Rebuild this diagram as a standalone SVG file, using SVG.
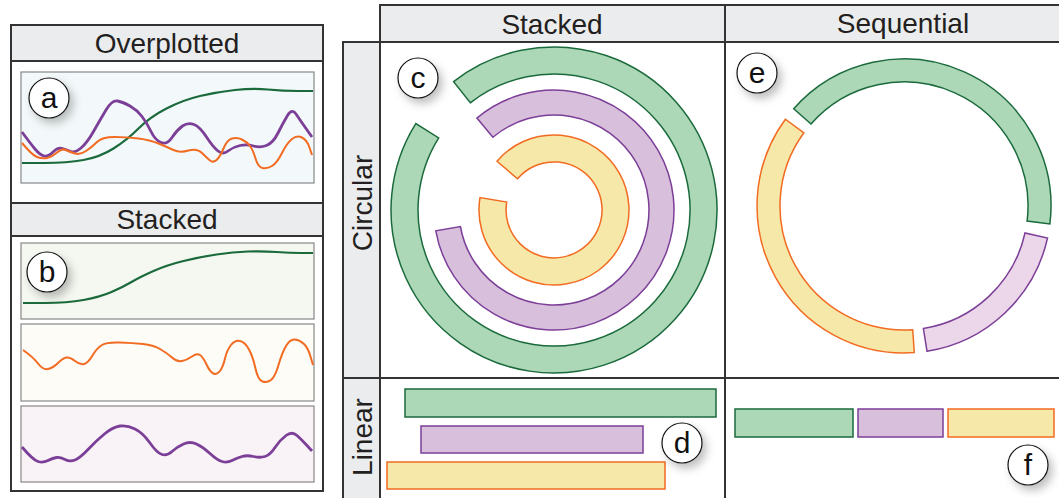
<svg xmlns="http://www.w3.org/2000/svg" width="1059" height="498" viewBox="0 0 1059 498">
<style>
.hdr{fill:#ebecee;stroke:#333;stroke-width:2}
.frame{fill:none;stroke:#333;stroke-width:2}
.grid{stroke:#333;stroke-width:2;fill:none}
.t{font-family:"Liberation Sans",Arial,sans-serif;font-size:28px;fill:#231f20;text-anchor:middle}
.lbl{font-family:"Liberation Sans",Arial,sans-serif;font-size:30px;fill:#111;text-anchor:middle}
.lc{fill:#fff;stroke:#111;stroke-width:1.2}
.plot{stroke:#888;stroke-width:1.2}
.g{fill:#acd8b7;stroke:#1b6a3c;stroke-width:1.5}
.p{fill:#d8bfdc;stroke:#7c3f98;stroke-width:1.5}
.pl{fill:#ecd7ea;stroke:#7c3f98;stroke-width:1.5}
.y{fill:#f6e8a9;stroke:#f26b22;stroke-width:1.5}
.cg{fill:none;stroke:#1b6a3c;stroke-width:2.2}
.cp{fill:none;stroke:#7c3f98;stroke-width:2.8}
.co{fill:none;stroke:#f26b22;stroke-width:2}
</style>
<defs>
<filter id="sh" x="-50%" y="-50%" width="220%" height="220%">
<feDropShadow dx="4" dy="5" stdDeviation="4" flood-color="#000" flood-opacity="0.25"/>
</filter>
</defs>
<rect width="1059" height="498" fill="#fff"/>

<g id="left-panel">
<rect x="11" y="25" width="312" height="466" fill="#fff" class="frame"/>
<rect x="11" y="25" width="312" height="36" class="hdr"/>
<text x="167" y="53" class="t">Overplotted</text>
<rect x="11" y="203" width="312" height="33" class="hdr"/>
<text x="167" y="229" class="t">Stacked</text>
</g>

<g id="panel-a">
<rect x="21" y="72" width="293" height="111" fill="#f3f9fa" class="plot"/>
<path class="cg" d="M22,163 L44.5,163 Q67,163 83.5,160 Q100,157 113.5,148.5 Q127,140 138.5,128.5 Q150,117 166.5,108.5 Q183,100 200,96 Q217,92 235,90 Q253,88 268,89.5 Q283,91 298,91 L313,91"/>
<path class="cp" d="M22,132 Q30,143 35,149 Q40,155 44,156 Q48,157 53,152 Q58,147 62.5,148.5 Q67,150 71,151.5 Q75,153 81,148 Q87,143 93.5,131.5 Q100,120 106,110 Q112,100 117.5,101 Q123,102 130,106 Q137,110 142,116.5 Q147,123 151,131.5 Q155,140 161,142.5 Q167,145 172,137.5 Q177,130 182.5,126 Q188,122 194,124.5 Q200,127 206.5,137 Q213,147 218,151 Q223,155 228,151 Q233,147 240,145.5 Q247,144 253.5,146 Q260,148 266.5,145.5 Q273,143 278,133 Q283,123 287.5,115.5 Q292,108 296,114 Q300,120 306,128.5 L312,137"/>
<path class="co" d="M22,143 Q32,155 37,157 Q42,159 47,158 Q52,157 57,152.5 Q62,148 66,150 Q70,152 75,153.5 Q80,155 86,151 Q92,147 97,142 Q102,137 114.5,137 Q127,137 138.5,138.5 Q150,140 158.5,143.5 Q167,147 173.5,150 Q180,153 188.5,150.5 Q197,148 202,153 Q207,158 210,160.5 Q213,163 216.5,160 Q220,157 223.5,148.5 Q227,140 232,138.5 Q237,137 242,139.5 Q247,142 250,146 Q253,150 255.5,158.5 Q258,167 262.5,168 Q267,169 272,166 Q277,163 282,153 Q287,143 292,139 Q297,135 302,137.5 Q307,140 309.5,147.5 L312,155"/>
<circle cx="49" cy="98" r="20" class="lc" filter="url(#sh)"/>
<text x="49" y="108" class="lbl">a</text>
</g>

<g id="panel-b">
<rect x="21" y="243" width="293" height="76" fill="#f4f8f0" class="plot"/>
<path class="cg" d="M23,303 L45,303 Q67,303 83.5,300 Q100,297 111.5,292 Q123,287 131.5,282 Q140,277 153.5,271 Q167,265 183.5,261 Q200,257 216.5,254.5 Q233,252 248,251.5 Q263,251 276.5,252 Q290,253 301.5,253 L313,253"/>
<rect x="21" y="324" width="293" height="77" fill="#fdfcf7" class="plot"/>
<path class="co" d="M23,350 Q33,357 38,363.5 Q43,370 48,369 Q53,368 58,363 Q63,358 66.5,357.5 Q70,357 75,361 Q80,365 84,364 Q88,363 92.5,355.5 Q97,348 102,345 Q107,342 120,342.5 Q133,343 143,344 Q153,345 160,349 Q167,353 172,357.5 Q177,362 182,361 Q187,360 192,356.5 Q197,353 200,355 Q203,357 206.5,364.5 Q210,372 213.5,373.5 Q217,375 220,371 Q223,367 225,358.5 Q227,350 231,345 Q235,340 240,341 Q245,342 249,349.5 Q253,357 255.5,368.5 Q258,380 262.5,381.5 Q267,383 271,380 Q275,377 278.5,365 Q282,353 286,346 Q290,339 295,339.5 Q300,340 304,344 Q308,348 310.5,356.5 L313,365"/>
<rect x="21" y="406" width="293" height="76" fill="#f9f3f8" class="plot"/>
<path class="cp" d="M22,447 Q33,460 38,461.5 Q43,463 48,460.5 Q53,458 56.5,457.5 Q60,457 65,459.5 Q70,462 75,460 Q80,458 88.5,449 Q97,440 105,433.5 Q113,427 120,426 Q127,425 135,429 Q143,433 150,443 Q157,453 162,454.5 Q167,456 172,451.5 Q177,447 183.5,444 Q190,441 196.5,444 Q203,447 210,453.5 Q217,460 222,461.5 Q227,463 232,460.5 Q237,458 242,456.5 Q247,455 253.5,456.5 Q260,458 265,456.5 Q270,455 275,447.5 Q280,440 286,435.5 Q292,431 297,435.5 Q302,440 307,445.5 L312,451"/>
<circle cx="47" cy="272" r="20" class="lc" filter="url(#sh)"/>
<text x="47" y="282" class="lbl">b</text>
</g>

<g id="grid-headers">
<rect x="380" y="5" width="345" height="37" class="hdr"/>
<text x="552" y="34" class="t">Stacked</text>
<rect x="725" y="5" width="340" height="37" class="hdr"/>
<text x="903" y="33" class="t">Sequential</text>
<rect x="343" y="42" width="37" height="336" class="hdr"/>
<text transform="translate(372,203) rotate(-90)" class="t">Circular</text>
<rect x="343" y="378" width="37" height="130" class="hdr"/>
<text transform="translate(372,437) rotate(-90)" class="t">Linear</text>
</g>

<g id="connectors">
<line x1="380" y1="378" x2="1059" y2="378" class="grid"/>
<line x1="725" y1="42" x2="725" y2="498" class="grid"/>
</g>

<g id="cell-c">
<path class="g" d="M453.6,81.6 A163,163 0 1 1 415.8,123.6 L438.7,137.9 A136,136 0 1 0 470.3,102.8 Z"/>
<path class="p" d="M476.9,118.1 A120,120 0 1 1 435.8,230.8 L460.4,226.5 A95,95 0 1 0 492.9,137.2 Z"/>
<path class="y" d="M497.0,161.2 A75,75 0 1 1 480.0,197.6 L506.7,202.1 A48,48 0 1 0 517.5,178.8 Z"/>
<circle cx="418" cy="78" r="20" class="lc" filter="url(#sh)"/>
<text x="418" y="88" class="lbl">c</text>
</g>

<g id="cell-e">
<path class="g" d="M793.7,108.8 A147,147 0 0 1 1049.9,223.9 L1027.1,221.1 A124,124 0 0 0 811.0,124.0 Z"/>
<path class="pl" d="M1047.5,238.1 A147,147 0 0 1 927.0,351.2 L923.4,328.5 A124,124 0 0 0 1025.0,233.0 Z"/>
<path class="y" d="M914.3,352.6 A147,147 0 0 1 785.4,119.2 L803.9,132.8 A124,124 0 0 0 912.7,329.7 Z"/>
<circle cx="757" cy="73" r="20" class="lc" filter="url(#sh)"/>
<text x="757" y="83" class="lbl">e</text>
</g>

<g id="cell-d">
<rect x="405" y="389" width="311" height="28" class="g"/>
<rect x="421" y="426" width="222" height="27" class="p"/>
<rect x="387" y="462" width="278" height="27" class="y"/>
<circle cx="682" cy="443" r="20" class="lc" filter="url(#sh)"/>
<text x="682" y="453" class="lbl">d</text>
</g>

<g id="cell-f">
<rect x="735" y="409" width="118" height="28" class="g"/>
<rect x="858" y="409" width="85" height="28" class="p"/>
<rect x="948" y="409" width="106" height="28" class="y"/>
<circle cx="1028" cy="465" r="20" class="lc" filter="url(#sh)"/>
<text x="1028" y="475" class="lbl">f</text>
</g>
</svg>
